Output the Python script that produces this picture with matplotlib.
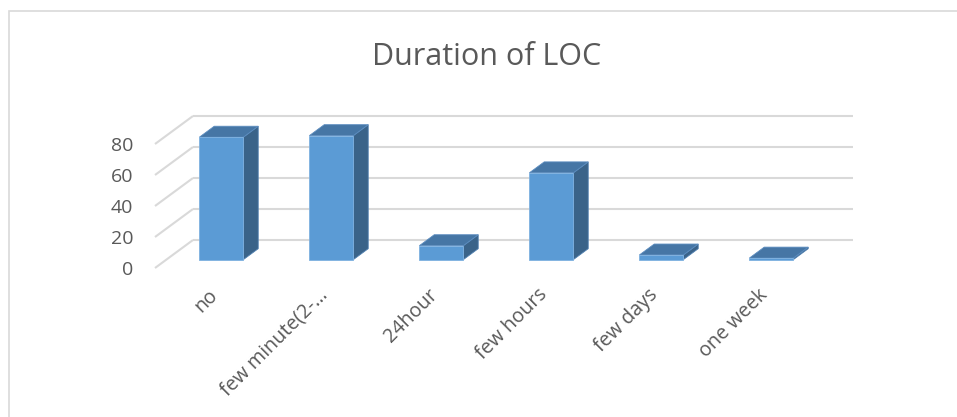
import numpy as np
import matplotlib
matplotlib.use("Agg")
import matplotlib.pyplot as plt
from matplotlib.patches import Polygon, Rectangle

# data
categories = ["no", "few minute(2-\u2026", "24hour", "few hours", "few days", "one week"]
counts = [79, 80, 9, 56, 3, 1]
yticks = [0, 20, 40, 60, 80]
title = "Duration of LOC"

# colours
FRONT = "#5B9BD5"
TOP = "#4676A5"
SIDE = "#3A6389"
GRID = "#D9D9D9"
TEXT = "#595959"

plt.rcParams["font.family"] = ["Open Sans", "DejaVu Sans"]

W, H = 957, 417
fig = plt.figure(figsize=(W / 100, H / 100), dpi=100)
ax = fig.add_axes([0, 0, 1, 1])
ax.set_axis_off()

# pixel layout of the front plane: x=0 at px 155, 110 px per category,
# y=0 at px 268, 1.55 px per unit
x0_px, cat_px, y0_px, unit_px = 155, 110, 268, 1.55
ax.set_xlim(-x0_px / cat_px, (W - x0_px) / cat_px)
ax.set_ylim((y0_px - H) / unit_px, y0_px / unit_px)

# oblique depth vector (full depth) in data units
depth = np.array([38 / cat_px, 28 / unit_px])
ncat = len(categories)

# walls gridlines: side wall diagonals + back wall horizontals
for v in yticks:
    p0 = np.array([0, v])
    p1 = p0 + depth
    ax.plot([p0[0], p1[0]], [p0[1], p1[1]], color=GRID, lw=1.5, zorder=1,
            solid_capstyle="butt")
    ax.plot([p1[0], p1[0] + ncat], [p1[1], p1[1]], color=GRID, lw=1.5, zorder=1,
            solid_capstyle="butt")

# bars
f0, f1 = 0.30, 0.69
hw = 0.2
for i, v in enumerate(counts):
    c = i + 0.5
    a = depth * f0
    b = depth * f1
    front = [(c - hw, 0) + a, (c + hw, 0) + a, (c + hw, v) + a, (c - hw, v) + a]
    top = [(c - hw, v) + a, (c + hw, v) + a, (c + hw, v) + b, (c - hw, v) + b]
    side = [(c + hw, 0) + a, (c + hw, 0) + b, (c + hw, v) + b, (c + hw, v) + a]
    ax.add_patch(Polygon(side, closed=True, fc=SIDE, ec="#4F7FB0", lw=0.6, zorder=3))
    ax.add_patch(Polygon(top, closed=True, fc=TOP, ec="#5B8CBF", lw=0.6, zorder=3))
    ax.add_patch(Polygon(front, closed=True, fc=FRONT, ec="#7EB1E0", lw=0.6, zorder=4))

# value axis labels
for v in yticks:
    ax.text(-0.2, v - 1.3, str(v), ha="right", va="center", fontsize=14,
            color=TEXT)

# category labels
for i, lab in enumerate(categories):
    ax.text(i + 0.5 + 0.04, (y0_px - 292) / unit_px, lab, rotation=45,
            rotation_mode="anchor", ha="right", va="center", fontsize=14.2,
            color=TEXT)

fig.text(487 / W, 1 - 65 / H, title, ha="center", va="baseline", fontsize=22,
         color=TEXT)

# chart area border
fig.patches.append(Rectangle((8.5 / W, -0.05), 1.1, 1 - 11 / H + 0.05,
                             transform=fig.transFigure, fill=False, ec=GRID,
                             lw=1.2))

fig.savefig("out.png", dpi=100)
